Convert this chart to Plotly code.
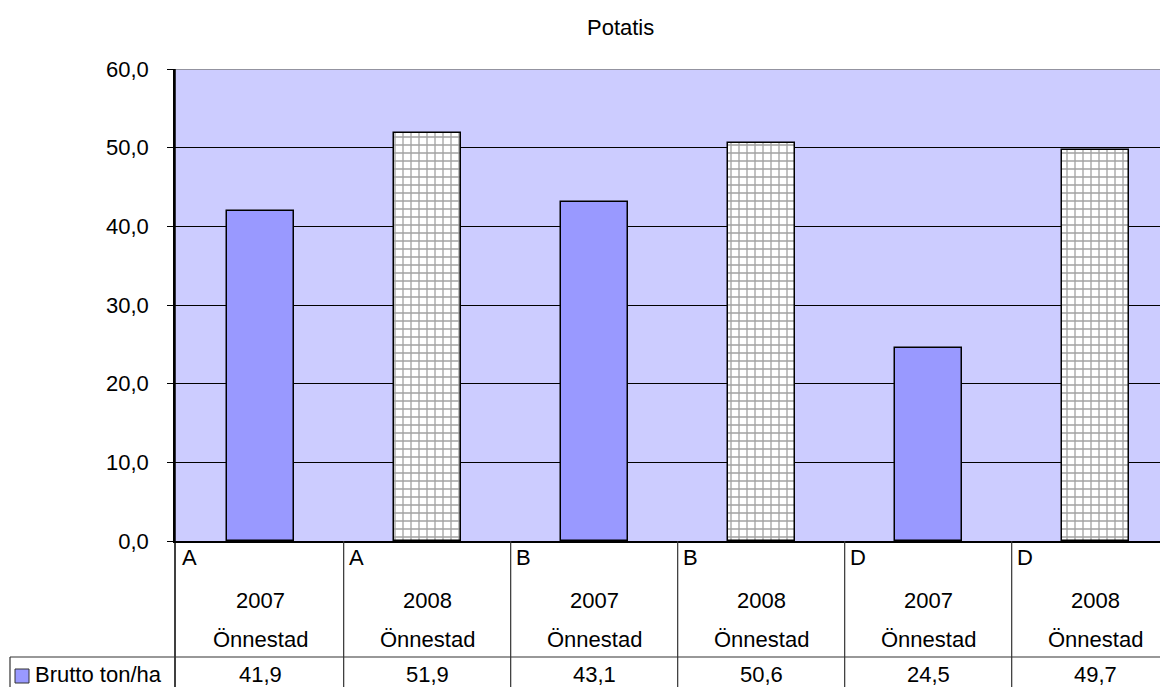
import plotly.graph_objects as go

# ---- data ----
sites = ["A", "A", "B", "B", "D", "D"]
years = ["2007", "2008", "2007", "2008", "2007", "2008"]
places = ["Önnestad"] * 6
values = [41.9, 51.9, 43.1, 50.6, 24.5, 49.7]
series_name = "Brutto ton/ha"
title = "Potatis"
y_ticks = [0, 10, 20, 30, 40, 50, 60]

# ---- layout constants (reference pixel coords; page body has 8px margin) ----
OFF = 8
W, H = 1168 - OFF, 687 - OFF
L, R_EDGE, T, B = 175, 1168, 69, 541
FONT = "Liberation Sans, Arial, sans-serif"
FS = 22
SOLID = "#9999FF"
x_min, x_max = -0.51, 5.436

def py(p):
    return (B - p) / (B - T)

def px(p):
    return (p - L) / (R_EDGE - L)

def fmt(v):
    return f"{v:.1f}".replace(".", ",")

colors = [SOLID if y == "2007" else "white" for y in years]
shapes_pat = ["" if y == "2007" else "+" for y in years]
xs = list(range(len(values)))

fig = go.Figure()
fig.add_trace(go.Bar(
    x=xs, y=values, width=0.4, name=series_name,
    marker=dict(
        color=colors,
        line=dict(color="black", width=1.5),
        pattern=dict(shape=shapes_pat, fgcolor="#555555", bgcolor=colors,
                     size=8, solidity=0.3),
    ),
    showlegend=False,
))

shapes = []
ann = []
# top border of plot area (gray)
shapes.append(dict(type="line", xref="paper", yref="y", x0=0, x1=1, y0=60, y1=60,
                   line=dict(color="#808080", width=1.5), layer="above"))
# axis line extended through table
shapes.append(dict(type="line", xref="paper", yref="paper", x0=0, x1=0,
                   y0=py(692), y1=1, line=dict(color="black", width=1.5)))
# category dividers
for i in range(1, len(values) + 1):
    shapes.append(dict(type="line", xref="x", yref="paper", x0=i - 0.5, x1=i - 0.5,
                       y0=py(692), y1=0, line=dict(color="#333333", width=1.2)))
# horizontal line above data row
shapes.append(dict(type="line", xref="paper", yref="paper", x0=px(10), x1=1,
                   y0=py(657), y1=py(657), line=dict(color="#333333", width=1.2)))
# row-header left border
shapes.append(dict(type="line", xref="paper", yref="paper", x0=px(10), x1=px(10),
                   y0=py(692), y1=py(657), line=dict(color="#333333", width=1.2)))
# legend key
shapes.append(dict(type="rect", xref="paper", yref="paper", x0=px(15), x1=px(29),
                   y0=py(683), y1=py(669), fillcolor=SOLID,
                   line=dict(color="#333333", width=1)))

for i in xs:
    ann.append(dict(x=i - 0.5, xref="x", y=py(557), yref="paper", text=sites[i],
                    showarrow=False, xanchor="left", yanchor="middle", xshift=3))
    ann.append(dict(x=i, xref="x", y=py(600), yref="paper", text=years[i],
                    showarrow=False, xanchor="center", yanchor="middle"))
    ann.append(dict(x=i, xref="x", y=py(639), yref="paper", text=places[i],
                    showarrow=False, xanchor="center", yanchor="middle"))
    ann.append(dict(x=i, xref="x", y=py(674), yref="paper", text=fmt(values[i]),
                    showarrow=False, xanchor="center", yanchor="middle"))
ann.append(dict(x=px(33), xref="paper", y=py(674), yref="paper", text=series_name,
                showarrow=False, xanchor="left", yanchor="middle"))
ann.append(dict(x=px(620), xref="paper", y=py(28), yref="paper", text=title,
                showarrow=False, xanchor="center", yanchor="middle"))

fig.update_layout(
    width=W, height=H,
    margin=dict(l=L - OFF, r=0, t=T - OFF, b=H - (B - OFF), pad=0),
    paper_bgcolor="white", plot_bgcolor="#CCCCFF",
    font=dict(family=FONT, size=FS, color="black"),
    separators=",.",
    shapes=shapes, annotations=ann,
    bargap=0,
)
fig.update_xaxes(range=[x_min, x_max], showticklabels=False, showgrid=False,
                 zeroline=False, showline=True, linecolor="black", linewidth=1.5,
                 ticks="", fixedrange=True)
fig.update_yaxes(range=[0, 60], tickvals=y_ticks, tickformat=".1f",
                 showgrid=True, gridcolor="black", gridwidth=1,
                 zeroline=False, showline=True, linecolor="black", linewidth=1.5,
                 ticks="outside", ticklen=6, tickcolor="black",
                 ticklabelstandoff=14, fixedrange=True)

fig.write_html("out.html")
